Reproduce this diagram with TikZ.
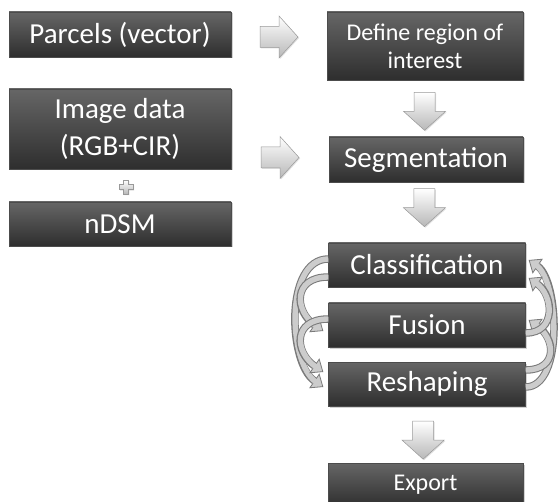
\documentclass[tikz,border=0pt]{standalone}
\usepackage{fontspec}
\setmainfont{Carlito}
\usetikzlibrary{arrows.meta,calc,shadows}

\tikzset{
  box/.style={draw=black!70, line width=0.4pt, top color=black!60, bottom color=black!82,
    text=white, inner sep=0pt, align=center,
    font=\fontsize{29}{37}\selectfont,
    drop shadow={shadow xshift=1.5pt, shadow yshift=-1.5pt, opacity=0.35}},
  smalltext/.style={font=\fontsize{24}{28}\selectfont},
  leftbox/.style={box, minimum width=222pt},
  rightbox/.style={box, minimum width=197pt, minimum height=44pt},
  blockfill/.style={draw=black!40, line width=0.5pt, top color=white, bottom color=black!28,
    drop shadow={shadow xshift=1pt, shadow yshift=-1pt, opacity=0.25}},
  pics/blockarrow/.style={code={
    \draw[blockfill] (-19,-10.5) -- (0,-10.5) -- (0,-21) -- (19,0) -- (0,21) -- (0,10.5)
      -- (-19,10.5) -- cycle;}},
  pics/plussign/.style={code={
    \draw[blockfill] (-2.4,-7) -- (2.4,-7) -- (2.4,-2.4) -- (7,-2.4) -- (7,2.4)
      -- (2.4,2.4) -- (2.4,7) -- (-2.4,7) -- (-2.4,2.4) -- (-7,2.4) -- (-7,-2.4)
      -- (-2.4,-2.4) -- cycle;}},
  loopout/.style={line width=7.5pt, draw=black!52,
    -{Triangle[width=18pt, length=11pt, fill=black!20, line width=0.8pt 0]}},
  loopin/.style={line width=5.4pt, draw=black!20, shorten >=9pt},
}

\begin{document}
\begin{tikzpicture}[x=1pt, y=-1pt]
  \useasboundingbox (0,0) rectangle (559,502);
  \clip (0,0) rectangle (559,502);
  \fill[white] (0,0) rectangle (559,502);

  % input data
  \node[leftbox, minimum height=45pt] (parcels) at (120,34.5) {Parcels (vector)};
  \node[leftbox, minimum height=80pt] (image) at (120,129) {Image data\\(RGB+CIR)};
  \node[leftbox, minimum height=44pt] (ndsm) at (120,224) {nDSM};

  % processing chain
  \node[rightbox, smalltext, minimum height=68pt, minimum width=196pt] (roi) at (425,46)
    {Define region of\\interest};
  \node[rightbox, minimum height=45pt, minimum width=194pt] (seg) at (426,159.5) {Segmentation};
  \node[rightbox] (cls) at (427,265) {Classification};
  \node[rightbox] (fus) at (427,325) {Fusion};
  \node[rightbox] (resh) at (427,384) {Reshaping};
  \node[rightbox, smalltext, minimum width=195pt] (export) at (425.5,485) {Export};

  % block arrows between the stages
  \pic at ($(parcels.east)!0.5!(parcels.east -| roi.west)+(0,2.5)$) {blockarrow};
  \pic at ($(image.east |- seg.west)!0.5!(seg.west)+(0,-2)$) {blockarrow};
  \pic[rotate=-90] at ($(roi.south)!0.55!(seg.north)+(-1,0)$) {blockarrow};
  \pic[rotate=-90] at ($(seg.south)!0.42!(cls.north)+(-2,0)$) {blockarrow};
  \pic[rotate=-90] at ($(resh.south)!0.6!(export.north)+(-3,0)$) {blockarrow};
  \pic at ($(image.south)!0.55!(ndsm.north)+(6,0)$) {plussign};

  % iteration loops, left side (downwards)
  \coordinate (l1s) at ([yshift=6pt]cls.west);
  \coordinate (l1e) at ([xshift=-5pt,yshift=-3pt]resh.west);
  \coordinate (l2s) at ([yshift=-12pt]cls.west);
  \coordinate (l2e) at ([xshift=-5pt,yshift=-6pt]fus.west);
  \coordinate (l3s) at ([yshift=6pt]fus.west);
  \coordinate (l3e) at ([xshift=-5pt,yshift=12pt]resh.west);
  \foreach \s/\e/\d in {l1s/l1e/44, l2s/l2e/36, l3s/l3e/36} {
    \draw[loopout] (\s) .. controls +(-\d,0) and +(-0.8*\d,-0.55*\d) .. (\e);
    \draw[loopin] (\s) .. controls +(-\d,0) and +(-0.8*\d,-0.55*\d) .. (\e);
  }

  % iteration loops, right side (upwards)
  \coordinate (r1s) at ([yshift=-3pt]resh.east);
  \coordinate (r1e) at ([xshift=3pt,yshift=5pt]cls.east);
  \coordinate (r2s) at ([yshift=14pt]resh.east);
  \coordinate (r2e) at ([xshift=3pt,yshift=5pt]fus.east);
  \coordinate (r3s) at ([yshift=-8pt]fus.east);
  \coordinate (r3e) at ([xshift=3pt,yshift=-13pt]cls.east);
  \foreach \s/\e/\d in {r1s/r1e/38, r2s/r2e/33, r3s/r3e/31} {
    \draw[loopout] (\s) .. controls +(\d,0) and +(0.8*\d,0.55*\d) .. (\e);
    \draw[loopin] (\s) .. controls +(\d,0) and +(0.8*\d,0.55*\d) .. (\e);
  }
\end{tikzpicture}
\end{document}
